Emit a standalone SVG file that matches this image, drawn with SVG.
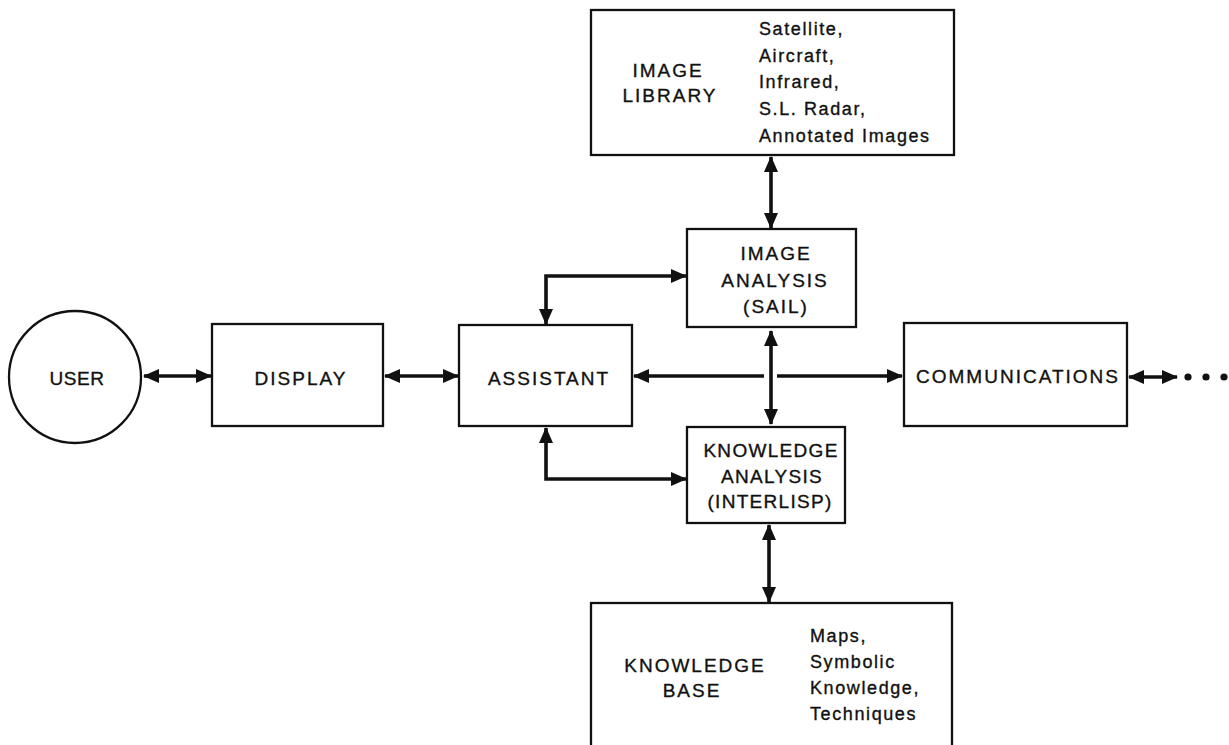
<svg xmlns="http://www.w3.org/2000/svg" width="1229" height="745" viewBox="0 0 1229 745">
<style>
.box{fill:#fff;stroke:#111;stroke-width:2.3}
.c{fill:none;stroke:#111;stroke-width:3.6}
.t{font-family:"Liberation Sans",Arial,sans-serif;font-size:19px;fill:#111;stroke:#111;stroke-width:0.35;letter-spacing:2px;text-anchor:middle}
.s{font-family:"Liberation Sans",Arial,sans-serif;font-size:18px;fill:#111;stroke:#111;stroke-width:0.35;letter-spacing:1.6px;text-anchor:start}
.n{letter-spacing:1.3px}
</style>
<defs>
<marker id="ah" viewBox="0 0 16 14" refX="15" refY="7" markerWidth="16" markerHeight="14" markerUnits="userSpaceOnUse" orient="auto-start-reverse">
<path d="M0,0 L16,7 L0,14 Z" fill="#111"/>
</marker>
</defs>
<rect width="1229" height="745" fill="#fff"/>
<g id="connectors">
<line class="c" x1="144" y1="376" x2="211" y2="376" marker-start="url(#ah)" marker-end="url(#ah)"/>
<line class="c" x1="385" y1="376" x2="458" y2="376" marker-start="url(#ah)" marker-end="url(#ah)"/>
<line class="c" x1="771" y1="157" x2="771" y2="228" marker-start="url(#ah)" marker-end="url(#ah)"/>
<path class="c" d="M546,324 L546,276 L686,276" marker-start="url(#ah)" marker-end="url(#ah)"/>
<path class="c" d="M546,428 L546,479 L686,479" marker-start="url(#ah)" marker-end="url(#ah)"/>
<line class="c" x1="764" y1="376" x2="634" y2="376" marker-end="url(#ah)"/>
<line class="c" x1="777" y1="376" x2="902" y2="376" marker-end="url(#ah)"/>
<line class="c" x1="771" y1="331" x2="771" y2="424" marker-start="url(#ah)" marker-end="url(#ah)"/>
<line class="c" x1="769" y1="525" x2="769" y2="602" marker-start="url(#ah)" marker-end="url(#ah)"/>
<line class="c" x1="1129" y1="377" x2="1177" y2="377" marker-start="url(#ah)" marker-end="url(#ah)"/>
<circle cx="1188" cy="377" r="3.6" fill="#111"/>
<circle cx="1206" cy="377" r="3.6" fill="#111"/>
<circle cx="1224" cy="377" r="3.6" fill="#111"/>
</g>
<g id="user">
<circle class="box" cx="75" cy="377" r="66"/>
<text class="t" x="77" y="385" style="letter-spacing:0.5px">USER</text>
</g>
<g id="display">
<rect class="box" x="212" y="324" width="171" height="102"/>
<text class="t" x="301" y="385">DISPLAY</text>
</g>
<g id="assistant">
<rect class="box" x="459" y="325" width="173" height="101"/>
<text class="t" x="549" y="385">ASSISTANT</text>
</g>
<g id="communications">
<rect class="box" x="904" y="323" width="223" height="103"/>
<text class="t" x="1018" y="383">COMMUNICATIONS</text>
</g>
<g id="image-library">
<rect class="box" x="591" y="10" width="363" height="145"/>
<text class="t" x="668" y="77">IMAGE</text>
<text class="t" x="670" y="102">LIBRARY</text>
<text class="s" x="759" y="35">Satellite,</text>
<text class="s" x="759" y="62">Aircraft,</text>
<text class="s" x="759" y="88">Infrared,</text>
<text class="s" x="759" y="115">S.L. Radar,</text>
<text class="s" x="759" y="142">Annotated  Images</text>
</g>
<g id="image-analysis">
<rect class="box" x="687" y="229" width="169" height="98"/>
<text class="t" x="776" y="260">IMAGE</text>
<text class="t" x="775" y="287">ANALYSIS</text>
<text class="t" x="776" y="313">(SAIL)</text>
</g>
<g id="knowledge-analysis">
<rect class="box" x="687" y="427" width="158" height="96"/>
<text class="t n" x="771" y="457">KNOWLEDGE</text>
<text class="t n" x="772" y="483">ANALYSIS</text>
<text class="t n" x="770" y="508">(INTERLISP)</text>
</g>
<g id="knowledge-base">
<rect class="box" x="591" y="603" width="361" height="150"/>
<text class="t" x="695" y="672">KNOWLEDGE</text>
<text class="t" x="692" y="697">BASE</text>
<text class="s" x="810" y="642">Maps,</text>
<text class="s" x="810" y="668">Symbolic</text>
<text class="s" x="810" y="694">Knowledge,</text>
<text class="s" x="810" y="720">Techniques</text>
</g>
</svg>
